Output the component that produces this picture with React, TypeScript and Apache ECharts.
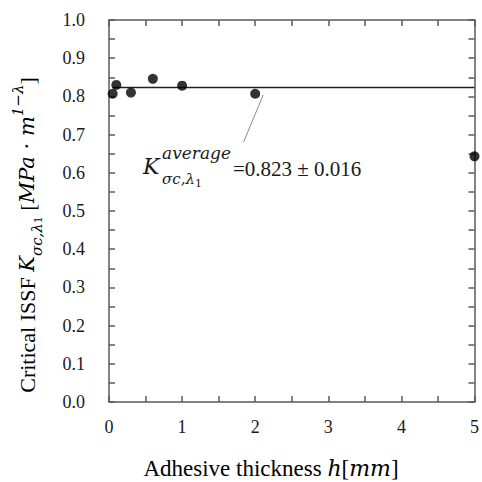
import React, { useEffect, useRef } from "react";
import * as echarts from "echarts";

// Data
const thicknessMm = [0.05, 0.1, 0.3, 0.6, 1.0, 2.0, 5.0];
const criticalIssf = [0.807, 0.83, 0.81, 0.846, 0.828, 0.807, 0.643];
const averageValue = 0.823;
const averageLineX = [0.05, 5];
const leaderFrom = [2.11, 0.804];
const leaderTo = [1.84, 0.68];
const xTicks = { min: 0, max: 5, interval: 0.5 };
const yTicks = { min: 0, max: 1, interval: 0.05 };

const SERIF = "'Liberation Serif', 'Times New Roman', serif";
const MATH = "'DejaVu Serif', 'Liberation Serif', serif";
const AXIS_COLOR = "#5a5a5a";
const TEXT_COLOR = "#1a1a1a";

export default function App() {
  const ref = useRef<HTMLDivElement>(null);

  useEffect(() => {
    if (!ref.current) return;
    const chart = echarts.init(ref.current, null, { renderer: "svg" });

    const axisLine = { show: true, onZero: false, lineStyle: { color: AXIS_COLOR, width: 1.5 } };
    const tick = { show: true, inside: true, length: 6, lineStyle: { color: AXIS_COLOR, width: 1.5 } };

    const xFmt = (v: number) => (Math.abs(v - Math.round(v)) < 1e-6 ? String(Math.round(v)) : "");
    const yFmt = (v: number) => (Math.round(v * 100) % 10 === 0 ? v.toFixed(1) : "");

    const titleRich = {
      n: { fontFamily: SERIF, fontSize: 22, color: TEXT_COLOR, lineHeight: 34, verticalAlign: "middle" },
      i: { fontFamily: MATH, fontStyle: "italic", fontSize: 21, color: TEXT_COLOR, lineHeight: 34, verticalAlign: "middle" },
      sub: { fontFamily: MATH, fontStyle: "italic", fontSize: 15, color: TEXT_COLOR, lineHeight: 15, verticalAlign: "bottom" },
      sub1: { fontFamily: MATH, fontSize: 11, color: TEXT_COLOR, lineHeight: 11, verticalAlign: "bottom" },
      sup: { fontFamily: MATH, fontStyle: "italic", fontSize: 15, color: TEXT_COLOR, lineHeight: 15, verticalAlign: "top" },
    };
    const xTitleRich = {
      n: { fontFamily: SERIF, fontSize: 23, color: TEXT_COLOR, lineHeight: 30, verticalAlign: "middle" },
      i: { fontFamily: MATH, fontStyle: "italic", fontSize: 22, color: TEXT_COLOR, lineHeight: 30, verticalAlign: "middle" },
    };

    chart.setOption({
      animation: false,
      backgroundColor: "#ffffff",
      grid: { left: 109, width: 372, top: 20, bottom: 80, containLabel: false },
      xAxis: [
        {
          type: "value",
          position: "bottom",
          min: xTicks.min,
          max: xTicks.max,
          interval: xTicks.interval,
          axisLine,
          axisTick: tick,
          splitLine: { show: false },
          axisLabel: {
            formatter: xFmt,
            fontFamily: SERIF,
            fontSize: 18,
            color: TEXT_COLOR,
            margin: 16,
            showMaxLabel: true,
            hideOverlap: false,
          },
        },
        {
          type: "value",
          position: "top",
          min: xTicks.min,
          max: xTicks.max,
          interval: xTicks.interval,
          axisLine,
          axisTick: tick,
          splitLine: { show: false },
          axisLabel: { show: false },
        },
      ],
      yAxis: [
        {
          type: "value",
          position: "left",
          min: yTicks.min,
          max: yTicks.max,
          interval: yTicks.interval,
          axisLine,
          axisTick: tick,
          splitLine: { show: false },
          axisLabel: {
            formatter: yFmt,
            fontFamily: SERIF,
            fontSize: 18,
            color: TEXT_COLOR,
            margin: 24,
          },
        },
        {
          type: "value",
          position: "right",
          min: yTicks.min,
          max: yTicks.max,
          interval: yTicks.interval,
          axisLine,
          axisTick: tick,
          splitLine: { show: false },
          axisLabel: { show: false },
        },
      ],
      series: [
        {
          type: "line",
          name: "average",
          data: averageLineX.map((x) => [x, averageValue]),
          symbol: "none",
          lineStyle: { color: "#222", width: 1.5 },
          silent: true,
          z: 2,
        },
        {
          type: "line",
          name: "leader",
          data: [leaderFrom, leaderTo],
          symbol: "none",
          lineStyle: { color: "#8a8a8a", width: 1 },
          silent: true,
          z: 2,
        },
        {
          type: "scatter",
          name: "Critical ISSF",
          data: thicknessMm.map((x, i) => [x, criticalIssf[i]]),
          symbol: "circle",
          symbolSize: 10,
          itemStyle: { color: "#000" },
          clip: false,
          z: 3,
        },
      ],
      graphic: [
        {
          type: "text",
          left: 143,
          top: 155,
          style: { text: "K", font: `italic 22px ${MATH}`, fill: TEXT_COLOR },
        },
        {
          type: "text",
          left: 162,
          top: 144,
          style: { text: "average", font: `italic 17px ${MATH}`, fill: TEXT_COLOR },
        },
        {
          type: "text",
          left: 162,
          top: 171,
          style: {
            text: "{s|σc,λ}{o|1}",
            rich: {
              s: { font: `italic 15px ${MATH}`, fill: TEXT_COLOR, lineHeight: 18, verticalAlign: "top" },
              o: { font: `11px ${MATH}`, fill: TEXT_COLOR, lineHeight: 18, verticalAlign: "bottom" },
            },
          },
        },
        {
          type: "text",
          left: 233,
          top: 158,
          style: { text: "=0.823 ± 0.016", font: `21px ${SERIF}`, fill: TEXT_COLOR },
        },
        {
          type: "text",
          x: 271,
          y: 468,
          style: {
            text: "{n|Adhesive thickness }{i|h}{n|[}{i|mm}{n|]}",
            align: "center",
            verticalAlign: "middle",
            rich: xTitleRich,
          },
        },
        {
          type: "text",
          x: 27,
          y: 235,
          rotation: Math.PI / 2,
          style: {
            text: "{n|Critical ISSF }{i|K}{sub|σc,λ}{sub1|1}{n| [}{i|MPa · m}{sup|1−λ}{n|]}",
            align: "center",
            verticalAlign: "middle",
            rich: titleRich,
          },
        },
      ],
    });

    return () => chart.dispose();
  }, []);

  return (
    <div
      ref={ref}
      style={{ position: "fixed", left: 0, top: 0, width: 482, height: 482, background: "#fff" }}
    />
  );
}
